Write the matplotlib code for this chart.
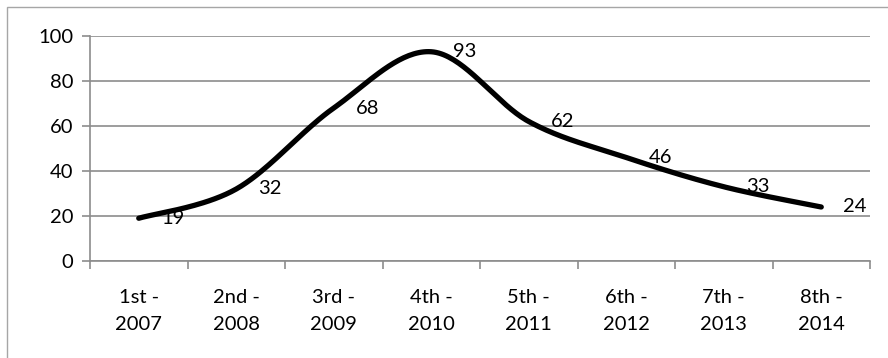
import numpy as np
import matplotlib.pyplot as plt
from matplotlib.patches import Rectangle

plt.rcParams['font.family'] = ['Lato', 'DejaVu Sans']

# 数据
categories = ['1st -\n2007', '2nd -\n2008', '3rd -\n2009', '4th -\n2010',
              '5th -\n2011', '6th -\n2012', '7th -\n2013', '8th -\n2014']
values = [19, 32, 68, 93, 62, 46, 33, 24]


def smooth(xs, ys, n=40):
    # 平滑曲线 (Catmull-Rom 式三次贝塞尔)
    pts = np.column_stack([xs, ys]).astype(float)
    ext = np.vstack([pts[0], pts, pts[-1]])
    out = []
    for i in range(len(pts) - 1):
        p0, p1, p2, p3 = ext[i], ext[i + 1], ext[i + 2], ext[i + 3]
        c1 = p1 + (p2 - p0) / 6
        c2 = p2 - (p3 - p1) / 6
        t = np.linspace(0, 1, n)[:, None]
        seg = ((1 - t) ** 3) * p1 + 3 * ((1 - t) ** 2) * t * c1 + 3 * (1 - t) * t ** 2 * c2 + t ** 3 * p2
        out.append(seg if i == 0 else seg[1:])
    seg = np.vstack(out)
    return seg[:, 0], seg[:, 1]


fig = plt.figure(figsize=(8.88, 3.58), dpi=100)
ax = fig.add_axes([90 / 888, 97 / 358, 780 / 888, 225 / 358])

x = np.arange(len(values))
sx, sy = smooth(x, values)
ax.plot(sx, sy, color='black', linewidth=3.8, solid_capstyle='round', zorder=3)

# 数据标签
for xi, v in zip(x, values):
    ax.annotate(str(v), (xi, v), xytext=(16, 0), textcoords='offset points',
                ha='left', va='center', fontsize=14.5, color='black', zorder=4)

ax.set_xlim(-0.5, len(values) - 0.5)
ax.set_ylim(0, 100)
ax.set_yticks(range(0, 101, 20))
ax.yaxis.grid(True, color='#8c8c8c', linewidth=1.2)
ax.set_axisbelow(True)

ax.set_xticks(x)
ax.set_xticklabels(categories, fontsize=14.5, linespacing=1.75)
ax.set_xticks(np.arange(-0.5, len(values)), minor=True)
ax.tick_params(axis='x', which='major', length=0, pad=20)
ax.tick_params(axis='x', which='minor', length=6, color='#8c8c8c', width=1.2)
ax.tick_params(axis='y', length=6, color='#8c8c8c', width=1.2, labelsize=14.5, pad=6)

for s in ['top', 'right']:
    ax.spines[s].set_visible(False)
for s in ['left', 'bottom']:
    ax.spines[s].set_color('#8c8c8c')
    ax.spines[s].set_linewidth(1.2)

# 外框
fig.patches.append(Rectangle((7 / 888, -0.1), 1.2, (351 / 358) + 0.1, transform=fig.transFigure,
                             fill=False, edgecolor='#a6a6a6', linewidth=1.0))

plt.savefig('out.png', dpi=100)
